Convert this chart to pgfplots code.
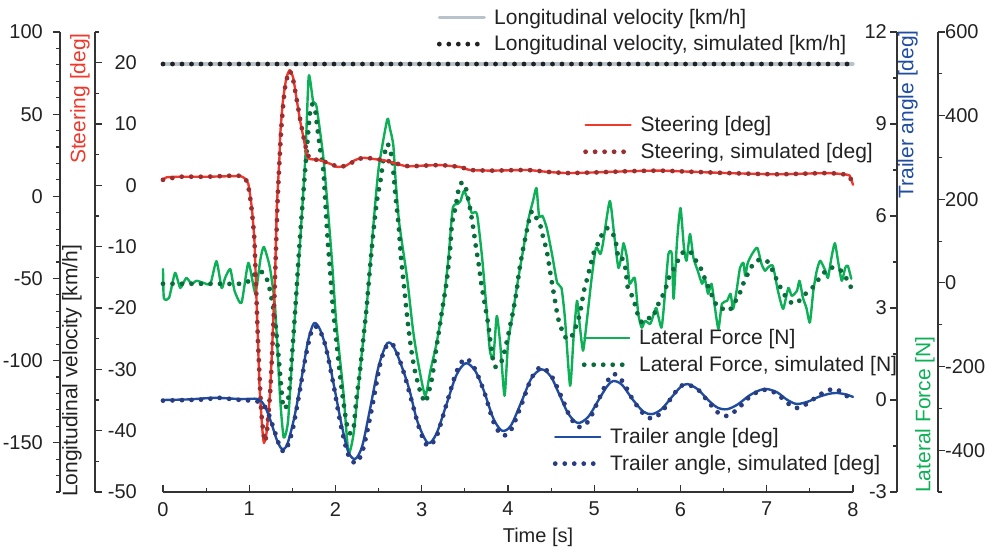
\documentclass[border=0pt]{standalone}
\usepackage{pgfplots}
\usepackage{pgfplotstable}
\pgfplotsset{compat=1.18}
\usepackage{fontspec}
\setmainfont{Liberation Sans}

\definecolor{velm}{HTML}{B8C2CB}
\definecolor{vels}{HTML}{222222}
\definecolor{stm}{HTML}{EE3A2C}
\definecolor{sts}{HTML}{9A2E30}
\definecolor{latm}{HTML}{0DB057}
\definecolor{lats}{HTML}{0A6B3C}
\definecolor{trm}{HTML}{1F4DA0}
\definecolor{trs}{HTML}{2A3C80}
\definecolor{axc}{HTML}{333333}
\definecolor{txt}{HTML}{222222}

\pgfplotstableread{
t v
0 80.5
8 80.5
}\velmeas
\pgfplotstableread{
t v
0 80.5
8 80.5
}\velsim

\pgfplotstableread{
t d
0 0.9
0.04 1.3
0.2 1.4
0.5 1.4
0.8 1.5
0.9 1.5
0.95 1.1
0.99 0.2
1.03 -3.7
1.06 -9
1.08 -17
1.10 -25
1.12 -33
1.15 -39.5
1.17 -42
1.20 -40.4
1.24 -34
1.27 -25
1.30 -14.4
1.32 -3.6
1.35 4.5
1.36 8.4
1.39 13.7
1.43 17.5
1.47 18.8
1.51 17.5
1.55 14
1.59 10.5
1.63 7.7
1.67 4.8
1.70 4.3
1.82 4.1
1.94 3.5
2.02 3.0
2.12 3.2
2.21 4.0
2.31 4.5
2.44 4.3
2.59 4.0
2.71 3.5
2.83 3.1
3.0 3.2
3.21 3.3
3.44 3.0
3.56 2.5
3.82 2.4
4.22 2.5
4.45 2.2
4.68 2.0
4.99 2.1
5.4 2.3
5.76 2.4
6.15 2.2
6.54 2.0
7.12 1.8
7.7 2.0
7.89 1.8
7.96 1.6
8.0 0.1
}\steermeas

\pgfplotstableread{
t d
0 0.9
0.2 1.4
0.5 1.4
0.85 1.6
0.93 1.4
0.98 0.4
1.02 -3
1.06 -9
1.10 -25
1.14 -37
1.18 -41.8
1.21 -39.5
1.25 -32
1.29 -19
1.33 -2
1.37 9
1.41 15.5
1.46 18.6
1.50 17.8
1.55 14
1.60 10
1.65 6.5
1.70 4.4
1.82 4.1
1.94 3.5
2.04 3.0
2.14 3.3
2.25 4.2
2.34 4.5
2.46 4.3
2.60 4.0
2.72 3.5
2.85 3.1
3.0 3.2
3.22 3.3
3.44 3.0
3.57 2.5
3.82 2.4
4.22 2.5
4.46 2.2
4.68 2.0
5.0 2.1
5.4 2.3
5.76 2.4
6.15 2.2
6.55 2.0
7.12 1.8
7.7 2.0
7.89 1.8
7.96 1.5
8.0 -0.1
}\steersim

\pgfplotstableread{
t f
0 33
0.01 -36
0.07 -36
0.14 24
0.20 -12
0.27 12
0.33 -2
0.39 5
0.47 0
0.55 -2
0.62 52
0.68 -12
0.72 12
0.78 33
0.83 -19
0.91 -48
0.99 48
1.07 -24
1.13 57
1.17 86
1.24 36
1.30 -60
1.36 -282
1.40 -370
1.45 -330
1.51 -138
1.59 100
1.65 298
1.69 495
1.74 434
1.78 422
1.86 298
1.92 155
1.96 50
2.01 -98
2.09 -258
2.15 -406
2.21 -360
2.28 -217
2.36 -60
2.44 140
2.50 274
2.60 391
2.63 370
2.67 330
2.70 236
2.74 141
2.83 12
2.90 -115
2.96 -193
3.04 -270
3.10 -210
3.17 -146
3.25 -50
3.31 60
3.36 179
3.42 189
3.45 196
3.49 220
3.54 196
3.58 167
3.64 165
3.70 60
3.75 -60
3.79 -162
3.83 -179
3.87 -79
3.91 -146
3.96 -270
4.00 -146
4.06 -67
4.12 12
4.18 84
4.24 155
4.29 196
4.33 227
4.36 160
4.40 160
4.45 131
4.51 69
4.57 0
4.62 -12
4.66 -84
4.72 -246
4.76 -131
4.80 -43
4.83 -98
4.87 -162
4.91 -98
4.97 12
5.02 84
5.07 69
5.10 93
5.18 196
5.23 117
5.28 36
5.32 70
5.34 95
5.38 60
5.41 -2
5.47 12
5.51 -74
5.55 -107
5.59 -91
5.65 -98
5.69 -74
5.72 -60
5.78 -107
5.82 -26
5.86 69
5.90 69
5.92 -38
5.96 100
6.00 179
6.04 84
6.07 53
6.11 117
6.15 60
6.20 29
6.25 -2
6.28 12
6.32 -26
6.36 -2
6.40 -60
6.44 -110
6.48 -50
6.54 -43
6.58 -26
6.61 -62
6.65 -19
6.69 36
6.73 48
6.75 17
6.78 48
6.83 69
6.89 84
6.94 45
6.98 29
7.01 36
7.07 41
7.13 -19
7.19 -62
7.25 -12
7.29 -31
7.35 -19
7.38 5
7.42 -36
7.46 -60
7.50 -95
7.54 -19
7.58 29
7.62 53
7.68 29
7.71 12
7.75 60
7.79 95
7.83 48
7.87 5
7.91 36
7.94 41
7.98 10
}\latmeas

\pgfplotstableread{
t f
0 -2
0.5 -2
0.9 -2
1.00 5
1.10 29
1.17 22
1.22 0
1.27 -50
1.31 -110
1.35 -200
1.39 -290
1.42 -300
1.46 -265
1.50 -162
1.54 -43
1.58 84
1.62 196
1.66 300
1.70 400
1.73 427
1.76 420
1.78 387
1.82 322
1.86 267
1.88 200
1.91 100
1.94 21
1.97 -60
2.01 -138
2.05 -217
2.09 -282
2.13 -337
2.17 -360
2.21 -346
2.24 -282
2.28 -217
2.32 -138
2.36 -60
2.40 36
2.44 124
2.48 196
2.52 243
2.56 300
2.60 332
2.63 320
2.66 291
2.69 220
2.73 141
2.76 60
2.80 -19
2.84 -98
2.88 -162
2.92 -210
2.98 -258
3.04 -286
3.08 -262
3.12 -227
3.16 -169
3.20 -115
3.24 -60
3.29 5
3.33 84
3.35 141
3.39 179
3.43 227
3.46 239
3.50 236
3.55 189
3.59 141
3.63 84
3.66 45
3.69 -2
3.73 -50
3.77 -98
3.80 -146
3.84 -198
3.90 -198
3.94 -179
3.98 -146
4.02 -107
4.06 -67
4.10 -19
4.13 29
4.17 76
4.21 117
4.25 155
4.28 172
4.33 155
4.37 141
4.41 107
4.45 76
4.50 12
4.54 -36
4.58 -84
4.63 -115
4.68 -134
4.73 -131
4.80 -98
4.84 -67
4.88 -19
4.92 12
4.96 45
5.00 76
5.04 93
5.10 120
5.16 131
5.24 107
5.28 60
5.32 60
5.36 36
5.39 -12
5.45 -36
5.51 -79
5.56 -95
5.63 -84
5.68 -84
5.72 -60
5.78 -36
5.83 -12
5.86 10
5.92 33
5.98 57
6.04 76
6.09 72
6.13 72
6.18 53
6.25 29
6.29 5
6.33 -12
6.38 -38
6.44 -60
6.50 -62
6.56 -67
6.62 -50
6.70 -19
6.74 5
6.80 29
6.85 48
6.91 55
7.00 53
7.06 33
7.11 10
7.18 -19
7.23 -36
7.29 -48
7.35 -48
7.45 -26
7.55 -7
7.63 17
7.73 36
7.84 33
7.92 12
7.98 -12
}\latsim

\pgfplotstableread{
t a
0 0.0
0.3 0.02
0.6 0.07
0.9 0.03
1.10 0.03
1.18 -0.2
1.25 -0.7
1.32 -1.3
1.38 -1.6
1.44 -1.45
1.52 -0.6
1.60 0.6
1.68 1.9
1.75 2.5
1.82 2.3
1.90 1.6
1.98 0.5
2.07 -0.8
2.15 -1.7
2.23 -1.92
2.31 -1.5
2.40 -0.3
2.50 1.1
2.60 1.85
2.68 1.7
2.78 1.0
2.86 0.3
2.95 -0.7
3.07 -1.4
3.17 -1.1
3.28 -0.2
3.40 0.8
3.51 1.2
3.62 0.95
3.72 0.3
3.83 -0.6
3.93 -1.0
4.03 -0.85
4.15 -0.1
4.27 0.7
4.39 1.0
4.50 0.75
4.60 0.15
4.70 -0.45
4.81 -0.75
4.93 -0.55
5.05 0.0
5.15 0.45
5.22 0.62
5.32 0.5
5.45 0.0
5.57 -0.38
5.67 -0.46
5.78 -0.3
5.90 0.1
6.00 0.42
6.08 0.52
6.20 0.35
6.32 0.0
6.43 -0.25
6.54 -0.3
6.66 -0.15
6.80 0.15
6.92 0.32
7.00 0.36
7.12 0.25
7.24 0.0
7.35 -0.13
7.48 -0.05
7.60 0.1
7.72 0.2
7.81 0.23
7.92 0.18
8.00 0.1
}\trmeas

\pgfplotstableread{
t a
0 -0.02
0.5 0.02
0.6 0.08
0.9 0.0
1.10 -0.05
1.20 -0.3
1.28 -0.9
1.36 -1.55
1.42 -1.65
1.50 -1.0
1.58 0.2
1.66 1.5
1.73 2.3
1.80 2.35
1.88 1.8
1.97 0.6
2.06 -0.8
2.15 -1.8
2.24 -2.05
2.32 -1.6
2.42 -0.3
2.52 1.2
2.60 1.8
2.68 1.75
2.78 1.0
2.88 0.0
2.98 -1.0
3.07 -1.5
3.17 -1.2
3.28 -0.2
3.40 0.9
3.50 1.35
3.60 1.1
3.72 0.3
3.83 -0.7
3.93 -1.15
4.03 -1.0
4.15 -0.2
4.27 0.7
4.38 1.07
4.50 0.8
4.62 0.1
4.72 -0.55
4.82 -0.88
4.93 -0.7
5.05 0.0
5.15 0.6
5.23 0.85
5.33 0.6
5.45 0.0
5.57 -0.45
5.67 -0.6
5.78 -0.4
5.90 0.1
6.00 0.45
6.08 0.5
6.20 0.35
6.32 -0.05
6.43 -0.4
6.54 -0.52
6.66 -0.3
6.80 0.1
6.92 0.3
7.00 0.33
7.12 0.2
7.24 -0.1
7.35 -0.26
7.48 -0.1
7.60 0.15
7.72 0.32
7.80 0.36
7.92 0.15
8.00 -0.07
}\trsim

\pgfplotsset{
  legend image code/.code={\draw[#1] (0pt,0pt) -- (45pt,0pt);},
  /pgf/number format/assume math mode=true,
  dataaxis/.style={scale only axis, at={(163pt,57pt)}, anchor=south west,
    width=690pt, height=460pt, xmin=0, xmax=8, clip=false,
    legend cell align=left,
    legend style={draw=none, fill=none, inner sep=0pt, outer sep=0pt,
      row sep=9pt, font=\fontsize{21}{25}\selectfont, text=txt,
      nodes={inner sep=0.5pt},
      /tikz/every odd column/.append style={column sep=7pt}}},
  deco/.style={scale only axis, width=1pt, height=460pt, xmin=0, xmax=1,
    axis x line=none, tick align=outside,
    major tick length=7pt, minor tick length=4pt,
    axis line style={-, axc, line width=1.1pt},
    every tick/.append style={axc, line width=1.1pt},
    tick label style={font=\fontsize{20}{24}\selectfont, text=txt, inner sep=0pt}},
  meas/.style={line width=2.4pt, line join=round, line cap=round},
  simdots/.style={line width=4.8pt, line cap=round, dash pattern=on 0pt off 9.5pt},
}

\begin{document}
\begin{tikzpicture}[font=\fontsize{21}{25}\selectfont]
\useasboundingbox (0pt,0pt) rectangle (988pt,549pt);

% ---- velocity data axis (also draws the time axis)
\begin{axis}[dataaxis, ymin=-180, ymax=100,
  axis x line*=bottom, axis y line=none,
  axis line style={-, axc, line width=1.1pt},
  xtick={0,1,...,8}, minor x tick num=1, tick align=inside,
  major tick length=7pt, minor tick length=4pt,
  every tick/.append style={axc, line width=1.1pt},
  xticklabel style={font=\fontsize{20}{24}\selectfont, text=txt, inner sep=0pt, anchor=north, yshift=-10pt},
  legend style={at={(0.397,1.051)}, anchor=north west}]
\addplot[velm, meas, line width=3.2pt] table[x=t,y=v]{\velmeas};
\addlegendentry{Longitudinal velocity [km/h]}
\addplot[vels, simdots] table[x=t,y=v]{\velsim};
\addlegendentry{Longitudinal velocity, simulated [km/h]}
\end{axis}

% ---- lateral force data axis
\begin{axis}[dataaxis, hide axis, ymin=-500, ymax=600,
  legend style={at={(0.607,0.354)}, anchor=north west}]
\addplot[latm, meas, smooth, tension=0.35] table[x=t,y=f]{\latmeas};
\addlegendentry{Lateral Force [N]}
\addplot[lats, simdots, smooth, tension=0.4] table[x=t,y=f]{\latsim};
\addlegendentry{Lateral Force, simulated [N]}
\end{axis}

% ---- steering data axis
\begin{axis}[dataaxis, hide axis, ymin=-50, ymax=25,
  legend style={at={(0.609,0.817)}, anchor=north west}]
\addplot[stm, meas, smooth, tension=0.3] table[x=t,y=d]{\steermeas};
\addlegendentry{Steering [deg]}
\addplot[sts, simdots, smooth, tension=0.3] table[x=t,y=d]{\steersim};
\addlegendentry{Steering, simulated [deg]}
\end{axis}

% ---- trailer angle data axis
\begin{axis}[dataaxis, hide axis, ymin=-3, ymax=12,
  legend style={at={(0.565,0.139)}, anchor=north west}]
\addplot[trm, meas, smooth] table[x=t,y=a]{\trmeas};
\addlegendentry{Trailer angle [deg]}
\addplot[trs, simdots, smooth] table[x=t,y=a]{\trsim};
\addlegendentry{Trailer angle, simulated [deg]}
\end{axis}

% ---- velocity y axis
\begin{axis}[deco, at={(60pt,57pt)}, anchor=south west,
  ymin=-180, ymax=100, axis y line*=left,
  ytick={-150,-100,...,100}, minor ytick={-180,-170,...,100},
  yticklabel style={anchor=east, xshift=-10pt}]
\end{axis}

% ---- steering y axis
\begin{axis}[deco, at={(95pt,57pt)}, anchor=south east,
  ymin=-50, ymax=25, axis y line*=right,
  ytick={-50,-40,...,20}, minor ytick={-45,-35,...,25},
  yticklabel style={anchor=east, xshift=35pt}]
\end{axis}

% ---- trailer y axis
\begin{axis}[deco, at={(897pt,57pt)}, anchor=south west,
  ymin=-3, ymax=12, axis y line*=left,
  ytick={-3,0,...,12}, minor ytick={-1.5,1.5,4.5,7.5,10.5},
  yticklabel style={anchor=east, xshift=-3pt}]
\end{axis}

% ---- lateral y axis
\begin{axis}[deco, at={(938pt,57pt)}, anchor=south east,
  ymin=-500, ymax=600, axis y line*=right,
  ytick={-400,-200,...,600}, minor ytick={-500,-300,...,500},
  yticklabel style={anchor=west, xshift=0pt}]
\end{axis}

\node[rotate=90, anchor=east, inner sep=0pt, text=stm] at (80pt,516pt) {Steering [deg]};
\node[rotate=90, anchor=west, inner sep=0pt, text=txt] at (72pt,52pt) {Longitudinal velocity [km/h]};
\node[rotate=90, anchor=east, inner sep=0pt, text=trm] at (908pt,519pt) {Trailer angle [deg]};
\node[rotate=90, anchor=west, inner sep=0pt, text=latm] at (925pt,56pt) {Lateral Force [N]};
\node[inner sep=0pt, text=txt, font=\fontsize{20}{24}\selectfont] at (538pt,12pt) {Time [s]};
\end{tikzpicture}
\end{document}
